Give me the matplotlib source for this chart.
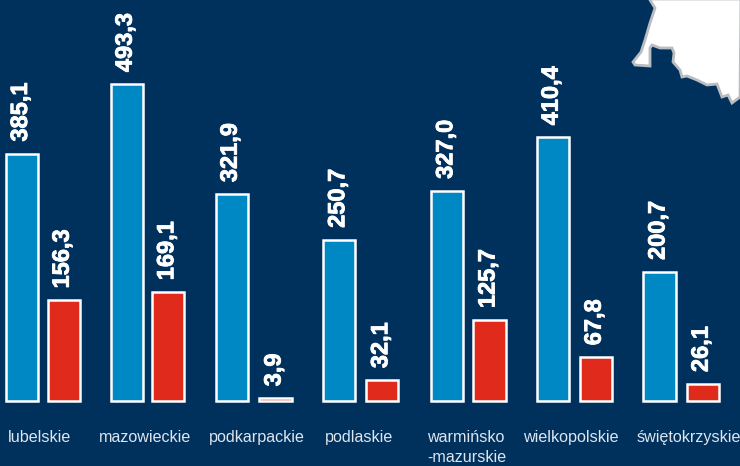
"""Wojewodztwa bar chart on a navy background."""

import matplotlib
matplotlib.use("Agg")
import matplotlib.patheffects as pe
import matplotlib.pyplot as plt
from matplotlib.patches import Polygon

regions = ["lubelskie", "mazowieckie", "podkarpackie", "podlaskie",
           "warmińsko\n-mazurskie", "wielkopolskie", "świętokrzyskie"]
blue_values = [385.1, 493.3, 321.9, 250.7, 327.0, 410.4, 200.7]
red_values = [156.3, 169.1, 3.9, 32.1, 125.7, 67.8, 26.1]

# the groups are not evenly spaced in the original, so layout is in pixels
BLUE_X = [22, 126.7, 231.7, 339.3, 447.3, 552.7, 659.5]
RED_X = [63.7, 168.3, 275.5, 382.3, 489.5, 595.7, 702.7]
LABEL_X = [8, 99, 209, 325, 427, 523, 637]

# outline of the map corner, traced in pixels from top left
map_outline = [(650, 0), (655, 8), (650, 23), (645, 40), (641, 52), (633, 62), (635, 65),
               (650, 66), (650, 48), (652, 45), (660, 48), (664, 48), (668, 48), (672, 48),
               (674, 53), (673, 62), (680, 70), (682, 77), (687, 76), (697, 80), (707, 85),
               (717, 84), (722, 97), (728, 95), (732, 103), (740, 97), (741, -1), (650, -1)]

BG = "#00305c"
BLUE = "#0088c4"
RED = "#e02b1c"
PX_PER_UNIT = 0.642
BASELINE = 400.8

plt.rcParams["font.family"] = ["Liberation Sans", "DejaVu Sans"]

fig = plt.figure(figsize=(7.4, 4.66), dpi=100, facecolor=BG)

# pixel axes for the map
px = fig.add_axes([0, 0, 1, 1])
px.set_xlim(0, 740)
px.set_ylim(466, 0)
px.axis("off")
px.add_patch(Polygon(map_outline, closed=True, facecolor="white", edgecolor="#b9bcc0", linewidth=2))

ax = fig.add_axes([0, 0, 1, 1])
ax.patch.set_alpha(0)
ax.set_xlim(0, 740)
ax.set_ylim(-(466 - BASELINE) / PX_PER_UNIT, BASELINE / PX_PER_UNIT)
ax.axis("off")

for xs, values, color in [(BLUE_X, blue_values, BLUE), (RED_X, red_values, RED)]:
    ax.bar(xs, values, width=32.2, color=color, edgecolor="white", linewidth=1.8)
    for x, value in zip(xs, values):
        ax.annotate(f"{value:.1f}".replace(".", ","), (x, value), xytext=(-1.5, 12),
                    textcoords="offset pixels", rotation=90, ha="center", va="bottom",
                    color="white", fontsize=17, fontweight="bold",
                    path_effects=[pe.withStroke(linewidth=0.6, foreground="white")])

for x, region in zip(LABEL_X, regions):
    ax.annotate(region, (x, 0), xytext=(0, -29), textcoords="offset pixels",
                ha="left", va="top", multialignment="left", color="#dde6ee",
                fontsize=11.6, linespacing=1.4)

fig.savefig("out.png", dpi=100, facecolor=BG)
